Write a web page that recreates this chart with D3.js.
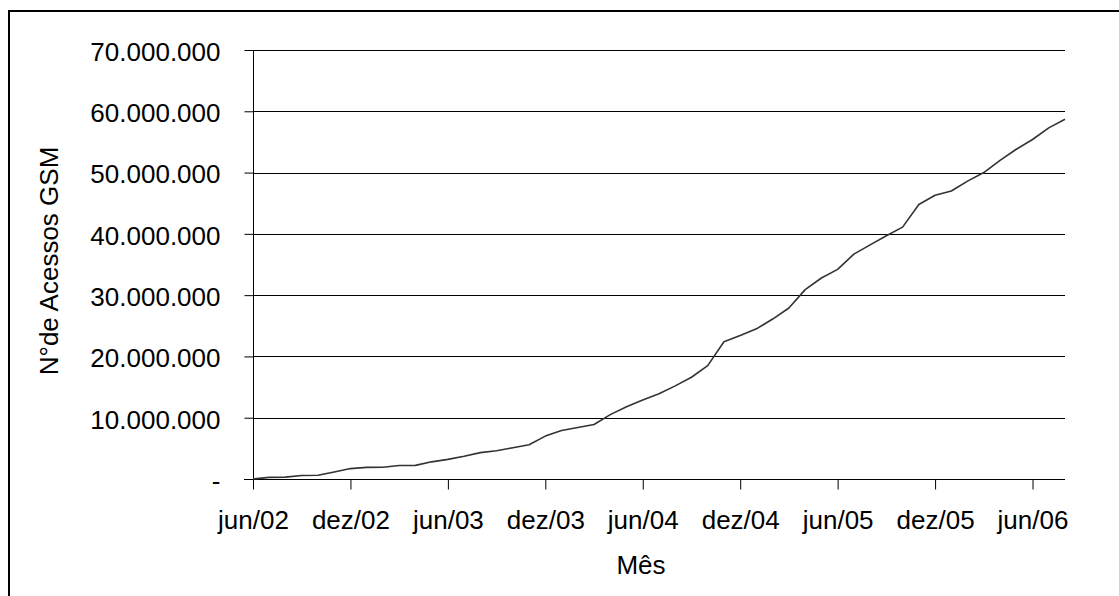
<!DOCTYPE html>
<html lang="pt">
<head>
<meta charset="utf-8">
<script src="https://cdn.jsdelivr.net/npm/d3@7"></script>
<style>
  html, body { margin: 0; padding: 0; background: #fff; }
  svg { display: block; font-family: "Liberation Sans", Arial, sans-serif; }
</style>
</head>
<body>
<svg id="chart" width="1119" height="596"></svg>
<script>
// Meses da série (jun/02 a ago/06)
const meses = [
  "jun/02","jul/02","ago/02","set/02","out/02","nov/02","dez/02",
  "jan/03","fev/03","mar/03","abr/03","mai/03","jun/03","jul/03","ago/03","set/03","out/03","nov/03","dez/03",
  "jan/04","fev/04","mar/04","abr/04","mai/04","jun/04","jul/04","ago/04","set/04","out/04","nov/04","dez/04",
  "jan/05","fev/05","mar/05","abr/05","mai/05","jun/05","jul/05","ago/05","set/05","out/05","nov/05","dez/05",
  "jan/06","fev/06","mar/06","abr/06","mai/06","jun/06","jul/06","ago/06"
];

// Acessos GSM por mês, em milhões
const acessosMilhoes = [
  0.00, 0.27, 0.30, 0.58, 0.60, 1.15, 1.70,
  1.90, 1.92, 2.20, 2.22, 2.80, 3.20, 3.70, 4.30, 4.60, 5.10, 5.60, 7.00,
  7.90, 8.40, 8.90, 10.50, 11.80, 12.90, 13.90, 15.20, 16.60, 18.50, 22.40, 23.40,
  24.50, 26.10, 27.90, 30.90, 32.80, 34.20, 36.70, 38.20, 39.70, 41.10, 44.80, 46.30,
  47.00, 48.60, 50.00, 52.00, 53.80, 55.40, 57.30, 58.70
];

// Marcas do eixo X (a cada seis meses)
const rotulosX = ["jun/02","dez/02","jun/03","dez/03","jun/04","dez/04","jun/05","dez/05","jun/06"];

// Marcas do eixo Y (milhões) e seus rótulos
const valoresY = [0, 10, 20, 30, 40, 50, 60, 70];
const rotulosY = ["-", "10.000.000", "20.000.000", "30.000.000", "40.000.000", "50.000.000", "60.000.000", "70.000.000"];

const svg = d3.select("#chart");
const FONT = 26;

const area = { esq: 253, dir: 1065, topo: 50, base: 479 };

const x = d3.scalePoint().domain(meses).range([area.esq, area.dir]);
const y = d3.scaleLinear().domain([0, 70]).range([area.base, area.topo]);

// Moldura do gráfico
svg.append("rect")
  .attr("x", 9).attr("y", 11)
  .attr("width", 1130).attr("height", 600)
  .attr("fill", "none").attr("stroke", "#000").attr("stroke-width", 2);

// Linhas de grade horizontais
svg.append("g")
  .selectAll("line")
  .data(valoresY.filter(v => v > 0))
  .join("line")
  .attr("x1", area.esq).attr("x2", area.dir)
  .attr("y1", d => Math.round(y(d)) + 0.5)
  .attr("y2", d => Math.round(y(d)) + 0.5)
  .attr("stroke", "#000").attr("stroke-width", 1);

// Eixo Y
const eixoY = svg.append("g")
  .attr("transform", `translate(${area.esq + 0.5},0)`)
  .call(d3.axisLeft(y)
    .tickValues(valoresY)
    .tickSize(9)
    .tickPadding(24)
    .tickFormat((d, i) => rotulosY[i]));
eixoY.select(".domain").attr("stroke", "#000").attr("d", `M0,${y(70)}V${y(0)}`);
eixoY.selectAll(".tick line").attr("stroke", "#000");
eixoY.selectAll("text")
  .attr("font-size", FONT)
  .attr("font-family", "Liberation Sans, Arial, sans-serif")
  .attr("fill", "#000")
  .attr("dy", "0.4em");

// Eixo X
const eixoX = svg.append("g")
  .attr("transform", `translate(0,${Math.round(area.base) + 0.5})`)
  .call(d3.axisBottom(x)
    .tickValues(rotulosX)
    .tickSize(10)
    .tickPadding(21));
eixoX.select(".domain").attr("stroke", "#000").attr("d", `M${area.esq - 9},0H${area.dir}`);
eixoX.selectAll(".tick line").attr("stroke", "#000");
eixoX.selectAll("text")
  .attr("font-size", FONT)
  .attr("font-family", "Liberation Sans, Arial, sans-serif")
  .attr("fill", "#000");

// Série de acessos
const linha = d3.line()
  .x((d, i) => x(meses[i]))
  .y(d => y(d));

svg.append("path")
  .datum(acessosMilhoes)
  .attr("d", linha)
  .attr("fill", "none")
  .attr("stroke", "#333")
  .attr("stroke-width", 1.6)
  .attr("stroke-linejoin", "round");

// Títulos dos eixos
svg.append("text")
  .attr("x", 641).attr("y", 574)
  .attr("text-anchor", "middle")
  .attr("font-size", FONT)
  .attr("fill", "#000")
  .text("Mês");

svg.append("text")
  .attr("transform", "translate(58,261) rotate(-90)")
  .attr("text-anchor", "middle")
  .attr("font-size", FONT)
  .attr("fill", "#000")
  .text("N°de Acessos GSM");
</script>
</body>
</html>
